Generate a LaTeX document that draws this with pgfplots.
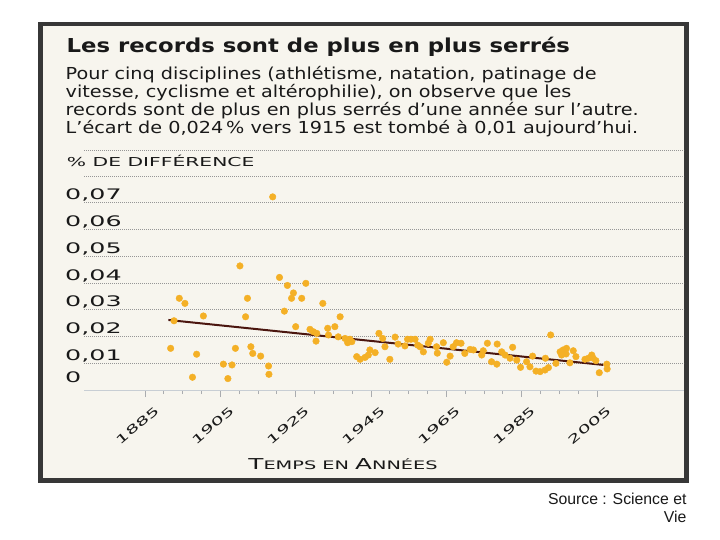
\documentclass[border=0pt]{standalone}
\usepackage{pgfplots}
\pgfplotsset{compat=1.18}
\usepackage{pgfplotstable}
\usepackage{fontspec}
\setmainfont{Liberation Sans}
\newfontfamily\extfont[FakeStretch=1.75]{DejaVu Sans}
\newfontfamily\labfont[FakeStretch=1.65]{DejaVu Sans}
\newfontfamily\bodyfont[FakeStretch=1.165]{DejaVu Sans}
\newfontfamily\titlefont[FakeStretch=1.185]{DejaVu Sans}
\definecolor{paper}{RGB}{247,245,238}
\definecolor{framec}{RGB}{55,55,55}
\definecolor{textc}{RGB}{25,25,25}
\definecolor{gridc}{RGB}{150,150,150}
\definecolor{basec}{RGB}{200,206,212}
\definecolor{tickc}{RGB}{170,172,175}
\definecolor{dotc}{RGB}{244,176,38}
\definecolor{trendc}{RGB}{75,22,15}

\pgfplotstableread{
year value
1891.8 0.0156
1892.7 0.0259
1894.1 0.0343
1895.6 0.0324
1897.6 0.0048
1898.7 0.0134
1900.5 0.0277
1905.8 0.0097
1907.0 0.0043
1908.1 0.0094
1909.0 0.0156
1910.2 0.0464
1911.7 0.0274
1912.2 0.0343
1913.1 0.0162
1913.6 0.0137
1915.7 0.0127
1917.8 0.0090
1917.9 0.0059
1918.9 0.0722
1920.7 0.0421
1922.0 0.0295
1922.8 0.0391
1923.9 0.0343
1924.4 0.0363
1925.0 0.0237
1926.6 0.0343
1927.7 0.0399
1928.8 0.0227
1929.7 0.0218
1930.4 0.0183
1930.6 0.0212
1932.2 0.0324
1933.5 0.0231
1933.7 0.0206
1935.4 0.0237
1936.3 0.0199
1936.8 0.0274
1938.1 0.0193
1938.8 0.0177
1939.4 0.0190
1939.9 0.0181
1941.2 0.0125
1942.1 0.0115
1943.4 0.0122
1944.3 0.0131
1944.7 0.0150
1946.1 0.0140
1947.1 0.0212
1948.1 0.0193
1948.7 0.0162
1950.0 0.0115
1951.4 0.0198
1952.2 0.0172
1954.0 0.0165
1954.7 0.0190
1955.6 0.0190
1956.7 0.0190
1957.4 0.0168
1958.0 0.0162
1958.9 0.0143
1960.2 0.0175
1960.7 0.0190
1962.4 0.0162
1962.6 0.0138
1964.2 0.0177
1965.1 0.0104
1966.0 0.0127
1966.8 0.0162
1967.7 0.0177
1968.9 0.0175
1969.9 0.0137
1971.3 0.0152
1972.2 0.0150
1974.4 0.0131
1974.8 0.0147
1975.9 0.0175
1977.0 0.0106
1978.4 0.0097
1978.5 0.0172
1979.7 0.0143
1980.6 0.0131
1981.9 0.0119
1982.6 0.0160
1983.7 0.0112
1984.7 0.0085
1986.3 0.0106
1987.2 0.0087
1987.9 0.0127
1988.8 0.0071
1989.9 0.0069
1991.2 0.0075
1991.3 0.0119
1992.1 0.0084
1992.7 0.0206
1994.1 0.0100
1995.2 0.0143
1995.6 0.0131
1996.0 0.0150
1996.8 0.0135
1996.9 0.0156
1997.8 0.0102
1998.7 0.0147
1999.4 0.0125
2001.8 0.0115
2002.7 0.0119
2003.6 0.0131
2004.0 0.0119
2004.7 0.0110
2005.6 0.0065
2007.6 0.0097
2007.7 0.0079
}\records

\pgfplotstableread{
year value
1891.2 0.0262
2006.7 0.0094
}\trend

\newcommand{\smallc}{\fontsize{11.7bp}{15bp}\selectfont}
\newcommand{\bigc}{\fontsize{15bp}{15bp}\selectfont}

\begin{document}
\begin{tikzpicture}[x=1bp,y=1bp]
\fill[white] (0,0) rectangle (720,540);
\fill[paper] (38,57.3) rectangle (688.5,518);
\draw[framec, line width=4.5bp] (40.25,59.55) rectangle (686.25,515.75);

\node[anchor=base west, inner sep=0pt, text=textc] at (66.5,487.7)
  {\titlefont\bfseries\fontsize{19.2bp}{23bp}\selectfont Les records sont de plus en plus serrés};
\node[anchor=base west, inner sep=0pt, text=textc] at (65.5,460.7)
  {\bodyfont\fontsize{16.5bp}{18bp}\selectfont Pour cinq disciplines (athlétisme, natation, patinage de};
\node[anchor=base west, inner sep=0pt, text=textc] at (65.5,442.3)
  {\bodyfont\fontsize{16.5bp}{18bp}\selectfont vitesse, cyclisme et altérophilie), on observe que les};
\node[anchor=base west, inner sep=0pt, text=textc] at (65.5,424.7)
  {\bodyfont\fontsize{16.5bp}{18bp}\selectfont records sont de plus en plus serrés d’une année sur l’autre.};
\node[anchor=base west, inner sep=0pt, text=textc] at (65.5,406.7)
  {\bodyfont\fontsize{16.5bp}{18bp}\selectfont L’écart de 0,024\,\% vers 1915 est tombé à 0,01 aujourd’hui.};
\draw[gridc, line width=0.7bp, dash pattern=on 0.8bp off 1.2bp] (84,390) -- (684,390);

\node[anchor=base east, inner sep=0pt, text=textc] at (686.7,35)
  {\fontsize{15.8bp}{18bp}\selectfont Source : Science et};
\node[anchor=base east, inner sep=0pt, text=textc] at (686.7,17.3)
  {\fontsize{15.8bp}{18bp}\selectfont Vie};

\begin{axis}[
  at={(84bp,149.9bp)}, anchor=south west,
  scale only axis, width=600bp, height=214.1bp,
  xmin=1868.8, xmax=2028.1, ymin=0, ymax=0.08,
  scaled y ticks=false, scaled x ticks=false,
  axis line style={draw=none},
  ytick={0.01,0.02,0.03,0.04,0.05,0.06,0.07},
  yticklabels={{0,01},{0,02},{0,03},{0,04},{0,05},{0,06},{0,07}},
  ymajorgrids,
  major grid style={draw=gridc, line width=0.7bp, dash pattern=on 0.8bp off 1.2bp},
  ytick style={draw=none},
  yticklabel style={font=\extfont\fontsize{14.5bp}{15bp}\selectfont, text=textc,
    anchor=base west, inner sep=0pt, xshift=-12bp, yshift=3bp},
  extra y ticks={0}, extra y tick labels={0},
  extra y tick style={grid=major, major grid style={solid, draw=basec, line width=1bp},
    tick label style={yshift=5bp}},
  xtick={1885,1905,1925,1945,1965,1985,2005},
  xticklabels={1885,1905,1925,1945,1965,1985,2005},
  minor xtick={1890,1895,...,2000},
  tick align=outside, xtick pos=left,
  major tick length=7bp, minor tick length=4bp,
  xtick style={draw=tickc, line width=0.8bp},
  xticklabel style={font=\extfont\fontsize{11.5bp}{13bp}\selectfont, text=textc,
    rotate=40, anchor=east, inner sep=0pt, xshift=2bp, yshift=-17bp},
  xlabel={{\labfont\bigc T\smallc EMPS EN \bigc A\smallc NNÉES}},
  xlabel style={at={(axis description cs:0.4317,-0.3704)}, anchor=base, inner sep=0pt, text=textc},
  ylabel={{\labfont\fontsize{12.3bp}{14bp}\selectfont \% DE DIFFÉRENCE}},
  ylabel style={at={(axis description cs:-0.0288,1.0434)}, anchor=base west, rotate=-90,
    inner sep=0pt, text=textc},
]
\addplot[only marks, color=dotc, mark=*, mark size=3.3bp, mark options={draw=dotc, fill=dotc}]
  table[x=year, y=value] {\records};
\addplot[trendc, line width=2bp] table[x=year, y=value] {\trend};
\draw[gridc, line width=0.7bp, dash pattern=on 0.8bp off 1.2bp]
  (rel axis cs:0,1) -- (rel axis cs:1,1);
\end{axis}
\end{tikzpicture}
\end{document}
